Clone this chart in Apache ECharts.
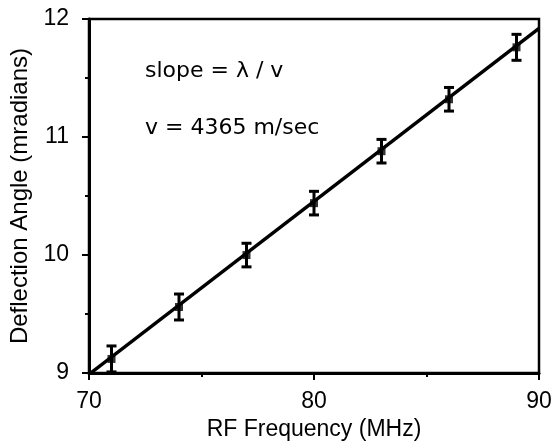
<!DOCTYPE html>
<html>
<head>
<meta charset="utf-8">
<script src="https://cdn.jsdelivr.net/npm/echarts@6/dist/echarts.min.js"></script>
<style>
  html, body { margin: 0; padding: 0; background: #fff; }
  #chart { width: 559px; height: 446px; }
</style>
</head>
<body>
<div id="chart"></div>
<script>
// measured points
const freq = [71, 74, 77, 80, 83, 86, 89]
const angle = [9.12, 9.56, 10.0, 10.44, 10.88, 11.32, 11.76]
const errHalf = [0.11, 0.11, 0.1, 0.1, 0.1, 0.1, 0.11]
// fitted line end points
const fitX = [70, 90]
const fitY = [8.99, 11.92]
const notes = ['slope = λ / v', 'v = 4365 m/sec']

const font = 'Liberation Sans, Arial, Helvetica, sans-serif'
const noteFont = 'DejaVu Sans, sans-serif'
const chart = echarts.init(document.getElementById('chart'))

const axisCommon = {
    axisLine: { show: true, lineStyle: { color: '#000', width: 3 } },
    axisTick: { show: true, inside: false, length: 7, lineStyle: { color: '#000', width: 2 } },
    minorTick: { show: true, splitNumber: 2, length: 4, lineStyle: { color: '#000', width: 2 } },
    splitLine: { show: false },
    axisLabel: { color: '#000', fontSize: 23, fontFamily: font }
}

const option = {
    animation: false,
    backgroundColor: '#fff',
    grid: { left: 89, right: 20, top: 19, bottom: 71, show: true, borderColor: '#000', borderWidth: 2.5 },
    graphic: [
        { type: 'text', left: 145, top: 60, style: { text: notes[0], fontSize: 22, fontFamily: noteFont, fill: '#000' } },
        { type: 'text', left: 145, top: 117, style: { text: notes[1], fontSize: 22, fontFamily: noteFont, fill: '#000' } }
    ],
    xAxis: Object.assign({}, axisCommon, {
        type: 'value', min: 70, max: 90, interval: 10,
        name: 'RF Frequency (MHz)', nameLocation: 'middle', nameGap: 43,
        nameTextStyle: { color: '#000', fontSize: 23, fontFamily: font },
        axisLabel: Object.assign({}, axisCommon.axisLabel, { margin: 17 })
    }),
    yAxis: Object.assign({}, axisCommon, {
        type: 'value', min: 9, max: 12, interval: 1,
        name: 'Deflection Angle (mradians)', nameLocation: 'middle', nameGap: 52,
        nameTextStyle: { color: '#000', fontSize: 24, fontFamily: font },
        axisLabel: Object.assign({}, axisCommon.axisLabel, { margin: 20 })
    }),
    series: [
        {
            type: 'line',
            data: fitX.map((x, i) => [x, fitY[i]]),
            symbol: 'none',
            lineStyle: { color: '#000', width: 3.5 },
            clip: true
        },
        {
            type: 'custom',
            data: freq.map((x, i) => [x, angle[i] - errHalf[i], angle[i] + errHalf[i]]),
            renderItem: (params, api) => {
                const lo = api.coord([api.value(0), api.value(1)])
                const hi = api.coord([api.value(0), api.value(2)])
                const w = 5
                const st = { stroke: '#000', lineWidth: 3 }
                return {
                    type: 'group',
                    children: [
                        { type: 'line', shape: { x1: lo[0], y1: lo[1], x2: hi[0], y2: hi[1] }, style: st },
                        { type: 'line', shape: { x1: lo[0] - w, y1: lo[1], x2: lo[0] + w, y2: lo[1] }, style: st },
                        { type: 'line', shape: { x1: hi[0] - w, y1: hi[1], x2: hi[0] + w, y2: hi[1] }, style: st }
                    ]
                }
            }
        },
        {
            type: 'scatter',
            data: freq.map((x, i) => [x, angle[i]]),
            symbol: 'rect',
            symbolSize: 8,
            itemStyle: { color: '#000' }
        }
    ]
}
chart.setOption(option)
</script>
</body>
</html>
